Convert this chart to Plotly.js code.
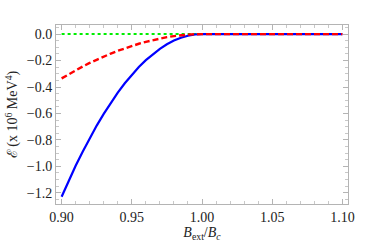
<!DOCTYPE html>
<html>
<head>
<meta charset="utf-8">
<script src="https://cdn.plot.ly/plotly-3.0.1.min.js"></script>
<style>html,body{margin:0;padding:0;background:#fff;}#chart{width:374px;height:245px;}</style>
</head>
<body>
<div id="chart"></div>
<script>
const xVals = [0.900,0.905,0.910,0.915,0.920,0.925,0.930,0.935,0.940,0.945,0.950,0.955,0.960,0.965,0.970,0.975,0.980,0.985,0.990,0.995,1.000,1.050,1.100];
const blueVals = [-1.230,-1.110,-0.996,-0.889,-0.787,-0.692,-0.603,-0.520,-0.443,-0.372,-0.308,-0.249,-0.197,-0.151,-0.111,-0.077,-0.049,-0.028,-0.012,-0.003,0,0,0];
const redVals = [-0.335,-0.303,-0.273,-0.245,-0.218,-0.193,-0.169,-0.147,-0.126,-0.107,-0.089,-0.073,-0.058,-0.045,-0.033,-0.023,-0.015,-0.008,-0.004,-0.001,0,0,0];
const greenVals = [0,0,0,0,0,0,0,0,0,0,0,0,0,0,0,0,0,0,0,0,0,0,0];
const xTicks = [0.90,0.95,1.00,1.05,1.10];
const yTicks = [-1.2,-1.0,-0.8,-0.6,-0.4,-0.2,0.0];

const traces = [
  {x: xVals, y: greenVals, mode: 'lines', line: {color: '#00ee00', width: 2, dash: 'dot'}},
  {x: xVals, y: blueVals, mode: 'lines', line: {color: '#0000ff', width: 2.2}},
  {x: xVals, y: redVals, mode: 'lines', line: {color: '#ff0000', width: 2.4, dash: '6px,3px'}}
];
const font = {family: 'Liberation Serif, Times New Roman, serif', size: 14, color: '#222'};
const axisBase = {
  showgrid: false, zeroline: false, showline: true, mirror: 'allticks',
  linecolor: '#b4b4b4', linewidth: 1, ticks: 'inside', ticklen: 5, tickcolor: '#b4b4b4', tickwidth: 1,
  tickfont: font
};
const layout = {
  width: 374, height: 245,
  margin: {l: 56, r: 26, t: 25, b: 41},
  paper_bgcolor: '#fff', plot_bgcolor: '#fff',
  showlegend: false,
  font: font,
  xaxis: Object.assign({}, axisBase, {
    range: [0.896, 1.104], tickvals: xTicks, ticktext: xTicks.map(v => v.toFixed(2)),
    minor: {dtick: 0.01, tick0: 0.9, ticks: 'inside', ticklen: 3, tickcolor: '#c8c8c8', showgrid: false},
    title: {text: '<i>B</i><sub>ext</sub>/<i>B</i><sub><i>c</i></sub>', font: font, standoff: 1}
  }),
  yaxis: Object.assign({}, axisBase, {
    range: [-1.285, 0.069], tickvals: yTicks, ticktext: yTicks.map(v => (v < 0 ? '\u2212' : '') + Math.abs(v).toFixed(1)),
    minor: {dtick: 0.05, tick0: 0, ticks: 'inside', ticklen: 3, tickcolor: '#c8c8c8', showgrid: false},
    title: {text: '\u2130 (x 10<sup>6</sup> MeV<sup>4</sup>)', font: font, standoff: 5}
  })
};
Plotly.newPlot('chart', traces, layout, {staticPlot: true, displayModeBar: false});
</script>
</body>
</html>
